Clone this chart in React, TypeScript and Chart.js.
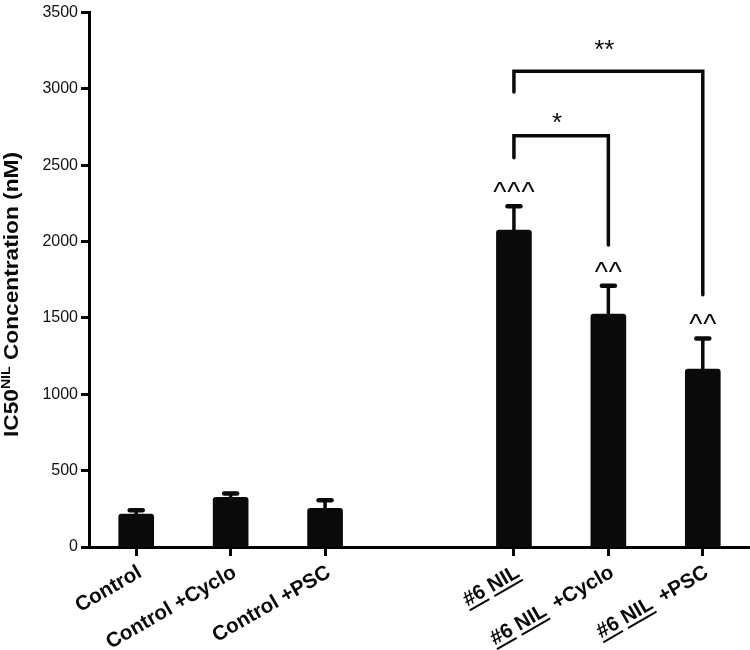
import React, { useEffect, useRef } from "react";
import { Chart, registerables } from "chart.js";

Chart.register(...registerables);

const FONT = '"Liberation Sans", Arial, Helvetica, sans-serif';

// Categories (index 3 is the empty gap slot between groups)
const categories = ["Control", "Control +Cyclo", "Control +PSC", "", "#6 NIL", "#6 NIL +Cyclo", "#6 NIL +PSC"];
const means = [215, 325, 254, null, 2075, 1525, 1165];
const sems = [25, 26, 52, null, 156, 186, 201];
const markers = ["", "", "", "", "^^^", "^^", "^^"];
const underlinedWords = ["#6", "NIL"];

const yMin = 0;
const yMax = 3500;
const yStep = 500;

// Significance brackets
const bracketStart = [4, 4];
const bracketEnd = [5, 6];
const bracketTop = [2693, 3116];
const bracketStartFoot = [2550, 2980];
const bracketEndFoot = [1978, 1652];
const bracketLabels = ["*", "**"];
const bracketLabelValue = [2826, 3300];

const titleMain = "IC50";
const titleSup = "NIL";
const titleRest = " Concentration (nM)";

const INK = "#0a0a0a";

const annotationsPlugin = {
  id: "annotations",
  afterDatasetsDraw(chart: any) {
    const ctx = chart.ctx;
    const xs = chart.scales.x;
    const ys = chart.scales.y;
    ctx.save();
    ctx.strokeStyle = INK;
    ctx.fillStyle = INK;
    // error bars
    means.forEach((m, i) => {
      const s = sems[i];
      if (m == null || s == null) return;
      const px = xs.getPixelForValue(i);
      const y0 = ys.getPixelForValue(m);
      const y1 = ys.getPixelForValue(m + s);
      ctx.lineWidth = 3.5;
      ctx.lineCap = "butt";
      ctx.beginPath();
      ctx.moveTo(px, y0 + 1);
      ctx.lineTo(px, y1);
      ctx.stroke();
      ctx.lineWidth = 4.5;
      ctx.lineCap = "round";
      ctx.beginPath();
      ctx.moveTo(px - 6.5, y1);
      ctx.lineTo(px + 6.5, y1);
      ctx.stroke();
      // markers above
      const mk = markers[i];
      if (mk) {
        const size = 28;
        ctx.font = `${size}px ${FONT}`;
        (ctx as any).letterSpacing = "1px";
        ctx.textAlign = "center";
        ctx.textBaseline = "alphabetic";
        ctx.fillText(mk, px + 0.5, y1 - 20 + 0.53 * size);
        (ctx as any).letterSpacing = "0px";
      }
    });
    // brackets
    bracketStart.forEach((a, k) => {
      const xa = xs.getPixelForValue(a);
      const xb = xs.getPixelForValue(bracketEnd[k]);
      const yt = ys.getPixelForValue(bracketTop[k]);
      const ya = ys.getPixelForValue(bracketStartFoot[k]);
      const yb = ys.getPixelForValue(bracketEndFoot[k]);
      ctx.lineWidth = 3.5;
      ctx.lineCap = "round";
      ctx.lineJoin = "miter";
      ctx.beginPath();
      ctx.moveTo(xa, ya);
      ctx.lineTo(xa, yt);
      ctx.lineTo(xb, yt);
      ctx.lineTo(xb, yb);
      ctx.stroke();
      const size = 26;
      ctx.font = `${size}px ${FONT}`;
      ctx.textAlign = "center";
      ctx.textBaseline = "alphabetic";
      ctx.fillText(bracketLabels[k], (xa + xb) / 2 - 4, ys.getPixelForValue(bracketLabelValue[k]) + 0.58 * size);
    });
    ctx.restore();
  },
  afterDraw(chart: any) {
    const ctx = chart.ctx;
    const xs = chart.scales.x;
    ctx.save();
    ctx.fillStyle = INK;
    // x labels, rotated, with underlined words
    ctx.font = `bold 20.5px ${FONT}`;
    ctx.textBaseline = "middle";
    ctx.textAlign = "left";
    categories.forEach((lab, i) => {
      if (!lab) return;
      const px = xs.getPixelForValue(i);
      ctx.save();
      ctx.translate(px + 4, xs.top + 24);
      ctx.rotate(-Math.PI / 6);
      const parts = lab.split(/(\s+)/).filter((p) => p.length > 0);
      const gap = (p: string, j: number) => (p.trim() === "" && j > 0 && parts[j - 1] === "NIL" ? 4 : 0);
      const total = parts.reduce((acc, p, j) => acc + ctx.measureText(p).width + gap(p, j), 0);
      let cx = -total;
      parts.forEach((p, j) => {
        const w = ctx.measureText(p).width + gap(p, j);
        ctx.fillText(p, cx, 0);
        if (underlinedWords.includes(p)) ctx.fillRect(cx, 9, w, 2);
        cx += w;
      });
      ctx.restore();
    });
    // y title with superscript
    const mainSize = 21;
    const supSize = 13;
    ctx.save();
    ctx.translate(18, 437);
    ctx.rotate(-Math.PI / 2);
    ctx.textAlign = "left";
    ctx.textBaseline = "alphabetic";
    ctx.font = `bold ${mainSize}px ${FONT}`;
    const w1 = ctx.measureText(titleMain).width;
    const w3 = ctx.measureText(titleRest).width;
    ctx.font = `bold ${supSize}px ${FONT}`;
    const w2 = ctx.measureText(titleSup).width;
    const total = w1 + w2 + w3;
    const target = 285;
    ctx.scale(target / total, 1);
    ctx.font = `bold ${mainSize}px ${FONT}`;
    ctx.fillText(titleMain, 0, 0);
    ctx.font = `bold ${supSize}px ${FONT}`;
    ctx.fillText(titleSup, w1, -8);
    ctx.font = `bold ${mainSize}px ${FONT}`;
    ctx.fillText(titleRest, w1 + w2, 0);
    ctx.restore();
    ctx.restore();
  },
};

export default function App() {
  const canvasRef = useRef<HTMLCanvasElement | null>(null);
  useEffect(() => {
    if (!canvasRef.current) return;
    const chart = new Chart(canvasRef.current, {
      type: "bar",
      data: {
        labels: categories,
        datasets: [
          {
            data: means as any,
            backgroundColor: INK,
            borderWidth: 0,
            borderRadius: 3,
            borderSkipped: "bottom",
            barThickness: 35,
          },
        ],
      },
      options: {
        responsive: false,
        animation: false,
        events: [],
        layout: { padding: { top: 9, left: 0, right: 0, bottom: 0 } },
        plugins: { legend: { display: false }, tooltip: { enabled: false } },
        scales: {
          x: {
            type: "category",
            offset: true,
            grid: {
              offset: false,
              drawOnChartArea: false,
              drawTicks: true,
              tickLength: 9,
              tickWidth: 3,
              tickColor: (c: any) => (categories[c.index] ? "#000" : "rgba(0,0,0,0)"),
            },
            border: { display: true, width: 3, color: "#000" },
            ticks: { display: false },
            afterFit(s: any) {
              s.height = 103;
            },
          },
          y: {
            min: yMin,
            max: yMax,
            ticks: {
              stepSize: yStep,
              color: "#111",
              font: { family: FONT, size: 16 },
              padding: 3,
              callback: (v: any) => String(v),
            },
            grid: {
              drawOnChartArea: false,
              drawTicks: true,
              tickLength: 8,
              tickWidth: 3,
              tickColor: "#000",
            },
            border: { display: true, width: 3, color: "#000" },
            afterFit(s: any) {
              s.width = 89;
            },
          },
        },
      },
      plugins: [annotationsPlugin],
    });
    return () => chart.destroy();
  }, []);
  return (
    <div style={{ position: "absolute", left: 0, top: 0, width: 750, height: 650, background: "#fff" }}>
      <canvas ref={canvasRef} width={750} height={650} />
    </div>
  );
}
